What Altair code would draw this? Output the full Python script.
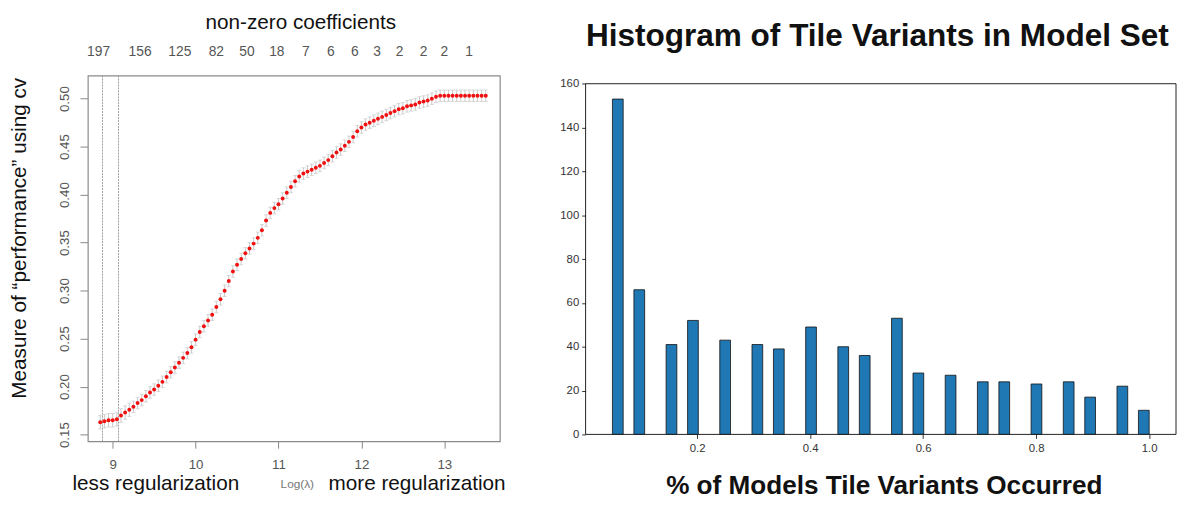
import altair as alt
import numpy as np
import pandas as pd

# ---------------- Left panel: cross-validated performance vs log(lambda) ----------------
log_lambda = [8.85, 8.90, 8.95, 9.00, 9.05, 9.10, 9.15, 9.20, 9.25, 9.30,
              9.35, 9.40, 9.45, 9.50, 9.55, 9.60, 9.65, 9.70, 9.75, 9.80,
              9.85, 9.90, 9.95, 10.00, 10.05, 10.10, 10.15, 10.20, 10.25, 10.30,
              10.35, 10.40, 10.45, 10.50, 10.55, 10.60, 10.65, 10.70, 10.75, 10.80,
              10.85, 10.90, 10.95, 11.00, 11.05, 11.10, 11.15, 11.20, 11.25, 11.30,
              11.35, 11.40, 11.45, 11.50, 11.55, 11.60, 11.65, 11.70, 11.75, 11.80,
              11.85, 11.90, 11.95, 12.00, 12.05, 12.10, 12.15, 12.20, 12.25, 12.30,
              12.35, 12.40, 12.45, 12.50, 12.55, 12.60, 12.65, 12.70, 12.75, 12.80,
              12.85, 12.90, 12.95, 13.00, 13.05, 13.10, 13.15, 13.20, 13.25, 13.30,
              13.35, 13.40, 13.45, 13.50]

cv_mean = [0.163, 0.164, 0.165, 0.165, 0.166, 0.170, 0.173, 0.176, 0.179, 0.183,
           0.186, 0.190, 0.194, 0.197, 0.201, 0.205, 0.210, 0.215, 0.220, 0.225,
           0.230, 0.235, 0.241, 0.249, 0.257, 0.263, 0.269, 0.275, 0.283, 0.291,
           0.300, 0.310, 0.320, 0.327, 0.333, 0.339, 0.344, 0.349, 0.355, 0.363,
           0.373, 0.381, 0.386, 0.390, 0.396, 0.402, 0.408, 0.414, 0.419, 0.422,
           0.424, 0.426, 0.428, 0.430, 0.433, 0.436, 0.440, 0.444, 0.447, 0.451,
           0.455, 0.460, 0.466, 0.470, 0.473, 0.475, 0.477, 0.479, 0.481, 0.483,
           0.485, 0.487, 0.489, 0.490, 0.492, 0.493, 0.494, 0.496, 0.497, 0.498,
           0.500, 0.502, 0.503, 0.503, 0.503, 0.503, 0.503, 0.503, 0.503, 0.503,
           0.503, 0.503, 0.503, 0.503]

cv_err = [0.007, 0.007, 0.007, 0.007, 0.007, 0.007, 0.007, 0.007, 0.006, 0.006,
          0.006, 0.006, 0.006, 0.006, 0.006, 0.006, 0.006, 0.006, 0.006, 0.006,
          0.006, 0.006, 0.006, 0.006, 0.006, 0.006, 0.006, 0.006, 0.006, 0.006,
          0.006, 0.006, 0.006, 0.006, 0.006, 0.006, 0.006, 0.006, 0.006, 0.006,
          0.006, 0.006, 0.006, 0.006, 0.006, 0.006, 0.006, 0.006, 0.006, 0.006,
          0.006, 0.006, 0.006, 0.006, 0.006, 0.006, 0.006, 0.006, 0.006, 0.006,
          0.006, 0.006, 0.006, 0.006, 0.006, 0.006, 0.006, 0.006, 0.006, 0.006,
          0.006, 0.006, 0.006, 0.006, 0.006, 0.006, 0.006, 0.006, 0.006, 0.006,
          0.006, 0.006, 0.006, 0.006, 0.006, 0.006, 0.006, 0.006, 0.006, 0.006,
          0.006, 0.006, 0.006, 0.006]

lambda_lines = [8.877, 9.07]

nz_positions = [8.83, 9.33, 9.81, 10.25, 10.62, 10.98, 11.33, 11.63, 11.92, 12.19,
                12.46, 12.75, 13.00, 13.30]
nz_labels = ["197", "156", "125", "82", "50", "18", "7", "6", "6", "3", "2", "2", "2", "1"]

x_ticks_left = [9, 10, 11, 12, 13]
y_ticks_left = [0.15, 0.20, 0.25, 0.30, 0.35, 0.40, 0.45, 0.50]

# ---------------- Right panel: histogram ----------------
fractions = [0.05, 0.10, 0.15, 0.20, 0.25, 0.30, 0.35, 0.40, 0.45, 0.50,
             0.55, 0.60, 0.65, 0.70, 0.75, 0.80, 0.85, 0.90, 0.95, 1.00]
counts = [153, 66, 41, 52, 43, 41, 39, 49, 40, 36,
          53, 28, 27, 24, 24, 23, 24, 17, 22, 11]
x_ticks_right = [0.2, 0.4, 0.6, 0.8, 1.0]
y_ticks_right = [0, 20, 40, 60, 80, 100, 120, 140, 160]
x_limits_right = [0.0025, 1.0475]
y_limits_right = [0, 160]

FONT = "Liberation Sans"

# ---- left panel build ----
cv = pd.DataFrame({
    "loglam": log_lambda,
    "cvm": cv_mean,
    "lo": [m - e for m, e in zip(cv_mean, cv_err)],
    "hi": [m + e for m, e in zip(cv_mean, cv_err)],
})

LW, LH = 418, 371
xs = alt.Scale(domain=[8.70, 13.67], nice=False, zero=False)
ys = alt.Scale(domain=[0.1431, 0.524], nice=False, zero=False)

x_axis_left = alt.Axis(values=x_ticks_left, format="d", title=None, grid=False, domain=False,
                       labelFontSize=13.5, labelColor="#555555", tickColor="#888888",
                       tickSize=7, labelPadding=10, labelFont=FONT)
y_axis_left = alt.Axis(values=y_ticks_left, format=".2f", title=None, grid=False, domain=False,
                       labelAngle=270, labelAlign="center", labelBaseline="alphabetic",
                       labelFontSize=13.5, labelColor="#555555", tickColor="#888888",
                       tickSize=8, labelPadding=12, labelFont=FONT)

base = alt.Chart(cv)
err_rules = base.mark_rule(color="#c8c8c8", strokeWidth=1).encode(
    x=alt.X("loglam:Q", scale=xs, axis=x_axis_left),
    y=alt.Y("lo:Q", scale=ys, axis=y_axis_left),
    y2="hi:Q",
)
cap_hi = base.mark_tick(color="#c8c8c8", orient="horizontal", size=4, thickness=1).encode(
    x="loglam:Q", y="hi:Q")
cap_lo = base.mark_tick(color="#c8c8c8", orient="horizontal", size=4, thickness=1).encode(
    x="loglam:Q", y="lo:Q")
pts = base.mark_circle(color="#f01010", size=16, opacity=1).encode(x="loglam:Q", y="cvm:Q")

vlines = alt.Chart(pd.DataFrame({"v": lambda_lines})).mark_rule(
    color="#a0a0a0", strokeDash=[2, 1], strokeWidth=1).encode(x="v:Q")

top_labels = alt.Chart(pd.DataFrame({"pos": nz_positions, "lab": nz_labels})).mark_text(
    fontSize=14, color="#555555", baseline="middle", font=FONT).encode(
    x="pos:Q", y=alt.value(-24), text="lab:N")


def label(txt, x, y, **kw):
    return alt.Chart(alt.Data(values=[{"t": txt}])).mark_text(font=FONT, **kw).encode(
        x=alt.value(x), y=alt.value(y), text="t:N")


left = alt.layer(
    vlines, err_rules, cap_hi, cap_lo, pts, top_labels,
    label("non-zero coefficients", 216, -53, fontSize=21, color="#111111", baseline="middle"),
    label("Measure of \u201cperformance\u201d using cv", -68.5, 165, fontSize=21, color="#111111",
          baseline="middle", angle=270),
    label("less regularization", 69, 420, fontSize=21, color="#111111", baseline="alphabetic"),
    label("Log(\u03bb)", 212.5, 414, fontSize=12, color="#777777", baseline="middle"),
    label("more regularization", 334, 420, fontSize=21, color="#111111", baseline="alphabetic"),
).properties(width=LW, height=LH, view=alt.ViewBackground(stroke="#8a8a8a", strokeWidth=1.2))

# ---- right panel build ----
samples = np.repeat(np.array(fractions), np.array(counts))
hist, edges = np.histogram(samples, bins=50)
nz = hist > 0
hist_df = pd.DataFrame({
    "left": edges[:-1][nz],
    "right": edges[1:][nz],
    "count": hist[nz],
    "zero": 0,
})

# the right plot area shares its top with the left one; its data frame (0..160)
# starts a little lower, so the y range extends slightly above 160.
RW, RH = 599, 364
ys_top = 163.7
xs_r = alt.Scale(domain=x_limits_right, nice=False, zero=False)
ys_r = alt.Scale(domain=[0, ys_top], nice=False)

bars = alt.Chart(hist_df).mark_rect(color="#1f77b4", stroke="#111111", strokeWidth=0.8).encode(
    x=alt.X("left:Q", scale=xs_r, axis=alt.Axis(
        values=x_ticks_right, format=".1f", title=None, grid=False, domain=False,
        labelFontSize=11.5, labelColor="#333333", tickColor="#333333", tickSize=4,
        labelPadding=4, labelFont=FONT)),
    x2="right:Q",
    y=alt.Y("count:Q", scale=ys_r, axis=alt.Axis(
        values=y_ticks_right, format="d", title=None, grid=False, domain=False,
        labelFontSize=11.5, labelColor="#333333", tickColor="#333333", tickSize=4,
        labelPadding=3, labelFont=FONT)),
    y2="zero:Q",
)

frame_df = pd.DataFrame({"x0": [x_limits_right[0]], "x1": [x_limits_right[1]],
                         "y0": [y_limits_right[0]], "y1": [y_limits_right[1]]})
frame = alt.Chart(frame_df).mark_rect(fill=None, fillOpacity=0, stroke="#222222", strokeWidth=1).encode(
    x="x0:Q", x2="x1:Q", y="y0:Q", y2="y1:Q")

right = alt.layer(
    bars, frame,
    label("Histogram of  Tile Variants in Model Set", 296, -40, fontSize=32, fontWeight="bold",
          color="#111111", baseline="middle"),
    label("% of Models Tile Variants Occurred", 303, 416, fontSize=26.5, fontWeight="bold",
          color="#111111", baseline="middle"),
).properties(width=RW, height=RH, view=alt.ViewBackground(stroke=None, strokeWidth=0))

chart = alt.hconcat(left, right, spacing=53).properties(
    padding=0, background="white"
).configure(font=FONT)

chart.save("out.html", embed_options={"renderer": "svg", "actions": False})
